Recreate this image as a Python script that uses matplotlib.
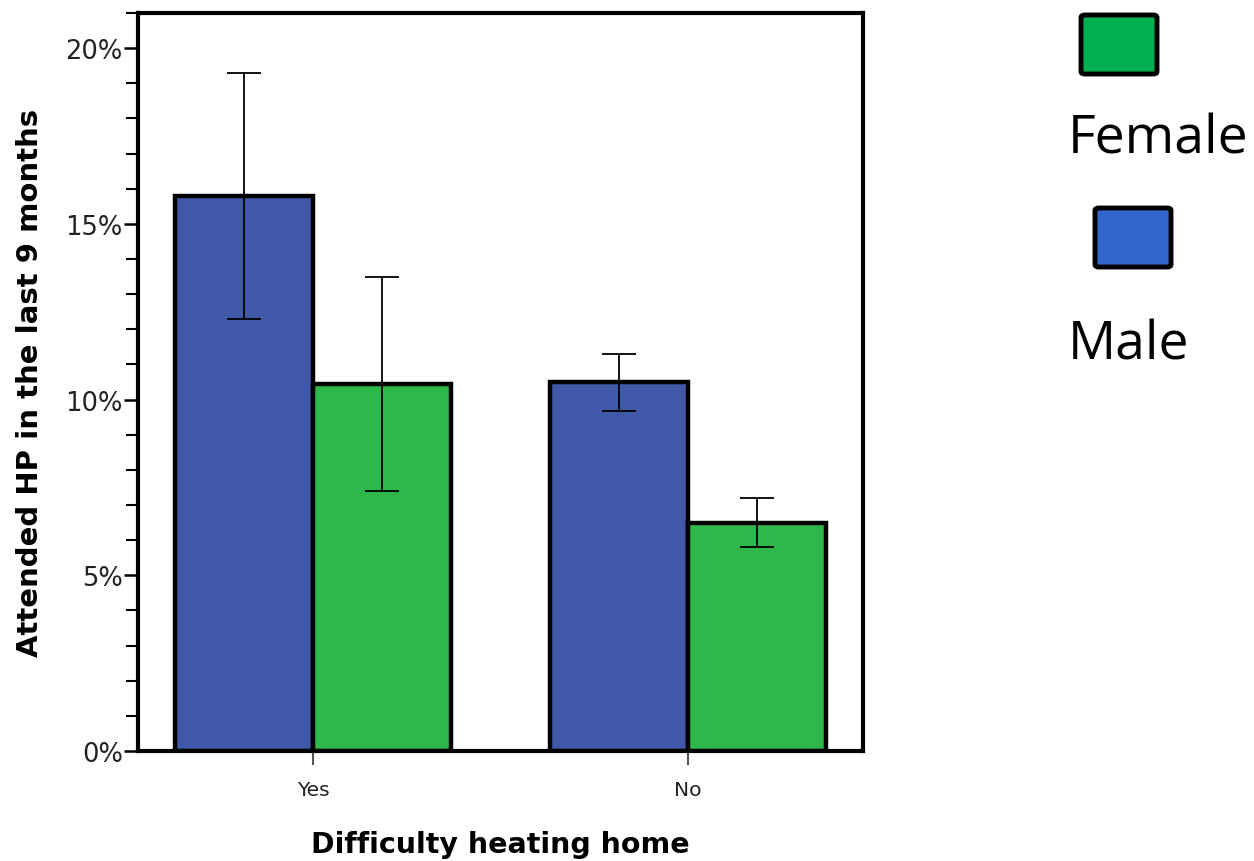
import matplotlib
matplotlib.use("Agg")
import matplotlib.pyplot as plt
from matplotlib.patches import FancyBboxPatch
from matplotlib.ticker import MultipleLocator, FuncFormatter

# Data: percentage attending HP, by difficulty heating home and sex
categories = ["Yes", "No"]
male_pct = [15.8, 10.5]
female_pct = [10.45, 6.5]
male_ci_low = [12.3, 9.67]
male_ci_high = [19.3, 11.3]
female_ci_low = [7.4, 5.8]
female_ci_high = [13.5, 7.2]

male_color = "#3F58A8"
female_color = "#2EB84A"
legend_male = "#3366CC"
legend_female = "#00AF50"

fig = plt.figure(figsize=(12.54, 8.62), dpi=100)
ax = fig.add_axes([0.110, 0.1276, 0.578, 0.8562])

x = list(range(len(categories)))
w = 0.368
male_x = [xi - w / 2 for xi in x]
female_x = [xi + w / 2 for xi in x]

ax.bar(male_x, male_pct, width=w, color=male_color, edgecolor="black", linewidth=3.2, zorder=2)
ax.bar(female_x, female_pct, width=w, color=female_color, edgecolor="black", linewidth=3.2, zorder=2)

male_err = [[m - lo for m, lo in zip(male_pct, male_ci_low)],
            [hi - m for m, hi in zip(male_pct, male_ci_high)]]
female_err = [[f - lo for f, lo in zip(female_pct, female_ci_low)],
              [hi - f for f, hi in zip(female_pct, female_ci_high)]]
ax.errorbar(male_x, male_pct, yerr=male_err, fmt="none", ecolor="black",
            elinewidth=1.3, capsize=12, capthick=1.3, zorder=3)
ax.errorbar(female_x, female_pct, yerr=female_err, fmt="none", ecolor="black",
            elinewidth=1.3, capsize=12, capthick=1.3, zorder=3)

ax.set_xlim(-0.467, 1.467)
ax.set_ylim(0, 21)
ax.yaxis.set_major_locator(MultipleLocator(5))
ax.yaxis.set_minor_locator(MultipleLocator(1))
ax.yaxis.set_major_formatter(FuncFormatter(lambda v, p: f"{v:.0f}%"))
ax.set_xticks(x)
ax.set_xticklabels(categories)

for s in ax.spines.values():
    s.set_linewidth(3)
ax.tick_params(axis="y", which="major", length=10, width=1.8, labelsize=18.5, pad=1, colors="black")
ax.tick_params(axis="y", which="minor", length=9, width=1.5)
ax.tick_params(axis="x", length=10, width=1.5, labelsize=14.5, pad=11, color="#555555")
for lab in ax.get_xticklabels():
    lab.set_color("#222222")
for lab in ax.get_yticklabels():
    lab.set_color("#222222")

ax.set_xlabel("Difficulty heating home", fontsize=20.5, fontweight="bold", labelpad=22)
ax.set_ylabel("Attended HP in the last 9 months", fontsize=21, fontweight="bold", labelpad=15)

# Legend drawn on the figure
def swatch(x0, y0, x1, y1, color):
    W, H = 1254, 862
    p = FancyBboxPatch((x0 / W, 1 - y1 / H), (x1 - x0) / W, (y1 - y0) / H,
                       boxstyle="round,pad=0,rounding_size=0.003",
                       transform=fig.transFigure, facecolor=color,
                       edgecolor="black", linewidth=3.5)
    fig.patches.append(p)

swatch(1081, 16, 1157, 75, legend_female)
swatch(1095, 209, 1171, 268, legend_male)
fig.text(1068 / 1254, 1 - 153 / 862, "Female", fontsize=38.5, ha="left", va="baseline",
         family="Open Sans")
fig.text(1068 / 1254, 1 - 360 / 862, "Male", fontsize=38.5, ha="left", va="baseline",
         family="Open Sans")

fig.savefig("out.png", dpi=100)
